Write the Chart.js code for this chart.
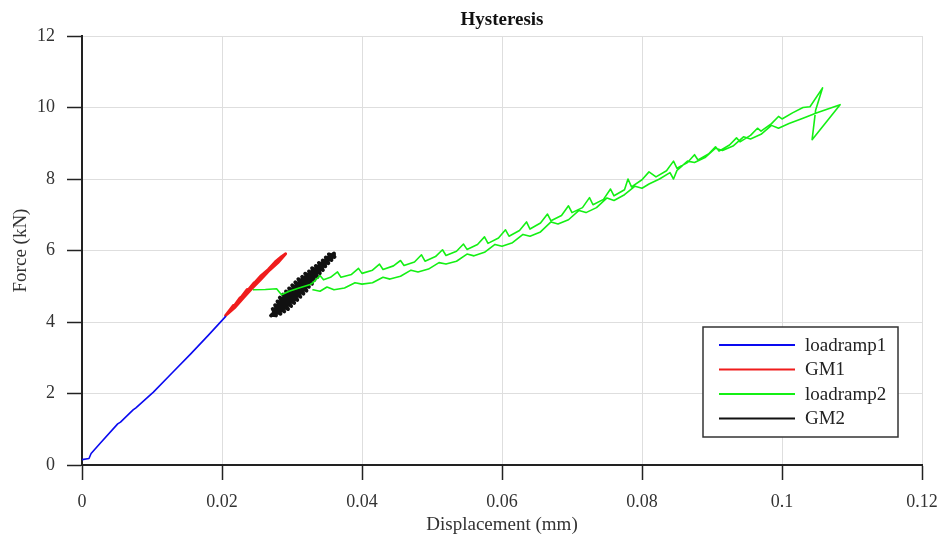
<!DOCTYPE html>
<html>
<head>
<meta charset="utf-8">
<script src="https://cdn.jsdelivr.net/npm/chart.js@4/dist/chart.umd.min.js"></script>
<style>
  html, body { margin: 0; padding: 0; background: #fff; }
  #wrap { width: 942px; height: 539px; }
</style>
</head>
<body>
<div id="wrap"><canvas id="c" width="942" height="539"></canvas></div>
<script>
// data (displacement mm, force kN)
const seriesNames = ['loadramp1', 'GM1', 'loadramp2', 'GM2'];
const seriesColors = ['#0a0af0', '#f01c1c', '#14f014', '#111111'];

const loadramp1X = [0, 0.001, 0.0013, 0.0026, 0.0051, 0.0055, 0.0073, 0.0077, 0.0102, 0.0130, 0.0155, 0.0180, 0.0205];
const loadramp1Y = [0.15, 0.18, 0.32, 0.61, 1.15, 1.20, 1.54, 1.60, 2.04, 2.60, 3.10, 3.62, 4.15];

const gm1X = [0.0205, 0.0216, 0.0211, 0.0226, 0.0219, 0.0236, 0.0229, 0.0246, 0.0239, 0.0256, 0.0266, 0.0276, 0.0285, 0.0291,
              0.0281, 0.0268, 0.0255, 0.0242, 0.0230, 0.0218, 0.0207];
const gm1Y = [4.18, 4.46, 4.28, 4.68, 4.48, 4.91, 4.70, 5.10, 4.93, 5.30, 5.47, 5.68, 5.83, 5.91,
              5.68, 5.45, 5.18, 4.92, 4.66, 4.40, 4.21];

const loadramp2X = [0.0245, 0.0262, 0.0278, 0.0285, 0.0296, 0.0310, 0.0326,
  0.0330, 0.0340, 0.0345, 0.0355, 0.0365, 0.0370, 0.0385, 0.0395, 0.0400, 0.0415, 0.0425, 0.0430,
  0.0445, 0.0455, 0.0460, 0.0475, 0.0485, 0.0490, 0.0505, 0.0515, 0.0520, 0.0535, 0.0545, 0.0550,
  0.0565, 0.0575, 0.0580, 0.0595, 0.0605, 0.0610, 0.0625, 0.0635, 0.0640, 0.0655, 0.0665, 0.0670,
  0.0685, 0.0695, 0.0700, 0.0715, 0.0725, 0.0730, 0.0745, 0.0755, 0.0760, 0.0775, 0.0780, 0.0785,
  0.0800, 0.0810, 0.0820, 0.0835, 0.0845, 0.0850, 0.0865, 0.0875, 0.0880, 0.0895, 0.0905, 0.0910,
  0.0925, 0.0935, 0.0940, 0.0955, 0.0965, 0.0970, 0.0985, 0.0995, 0.1000, 0.1015, 0.1030, 0.1040,
  0.1058, 0.1048, 0.1043, 0.1083, 0.1050,
  0.1030, 0.1010, 0.0995, 0.0985, 0.0970, 0.0955, 0.0945, 0.0930, 0.0915, 0.0905, 0.0890, 0.0875,
  0.0865, 0.0850, 0.0845, 0.0840, 0.0825, 0.0810, 0.0800, 0.0790, 0.0775, 0.0760, 0.0750, 0.0735,
  0.0720, 0.0710, 0.0695, 0.0680, 0.0670, 0.0655, 0.0640, 0.0630, 0.0615, 0.0600, 0.0590, 0.0575,
  0.0560, 0.0550, 0.0535, 0.0520, 0.0510, 0.0495, 0.0480, 0.0470, 0.0455, 0.0440, 0.0430, 0.0415,
  0.0400, 0.0390, 0.0375, 0.0360, 0.0350, 0.0340, 0.0330];
const loadramp2Y = [4.90, 4.91, 4.93, 4.76, 4.86, 4.95, 5.05,
  5.10, 5.30, 5.18, 5.25, 5.40, 5.25, 5.33, 5.50, 5.36, 5.45, 5.62, 5.47,
  5.57, 5.72, 5.58, 5.68, 5.88, 5.70, 5.83, 6.02, 5.86, 5.98, 6.18, 6.03,
  6.17, 6.38, 6.20, 6.35, 6.58, 6.40, 6.56, 6.80, 6.60, 6.77, 7.02, 6.83,
  6.98, 7.25, 7.06, 7.20, 7.48, 7.28, 7.43, 7.72, 7.53, 7.70, 8.00, 7.78,
  7.98, 8.20, 8.06, 8.23, 8.50, 8.30, 8.46, 8.68, 8.53, 8.70, 8.90, 8.78,
  8.95, 9.15, 9.04, 9.22, 9.42, 9.34, 9.55, 9.75, 9.68, 9.85, 10.00, 10.02,
  10.55, 9.92, 9.10, 10.08, 9.85,
  9.70, 9.55, 9.42, 9.50, 9.25, 9.12, 9.18, 8.92, 8.80, 8.86, 8.60, 8.46,
  8.50, 8.24, 8.00, 8.18, 8.00, 7.86, 7.74, 7.80, 7.56, 7.40, 7.47, 7.20,
  7.06, 7.12, 6.86, 6.74, 6.80, 6.52, 6.40, 6.45, 6.22, 6.12, 6.17, 5.95,
  5.85, 5.90, 5.70, 5.62, 5.66, 5.48, 5.40, 5.45, 5.28, 5.20, 5.25, 5.10,
  5.06, 5.10, 4.95, 4.90, 4.98, 4.86, 4.90];

const gm2X = [0.02720, 0.02772, 0.02724, 0.02836, 0.02758, 0.02890, 0.02792, 0.02944, 0.02826, 0.02988,
              0.02870, 0.03032, 0.02914, 0.03076, 0.02958, 0.03120, 0.03002, 0.03164, 0.03046, 0.03208,
              0.03090, 0.03242, 0.03144, 0.03286, 0.03188, 0.03320, 0.03242, 0.03364, 0.03286, 0.03398,
              0.03340, 0.03442, 0.03384, 0.03476, 0.03438, 0.03520, 0.03482, 0.03564, 0.03526, 0.03608,
              0.03600, 0.03500, 0.03380, 0.03260, 0.03140, 0.03020, 0.02900, 0.02800, 0.02700];
const gm2Y = [4.200, 4.183, 4.366, 4.229, 4.472, 4.295, 4.578, 4.361, 4.684, 4.447,
              4.770, 4.533, 4.856, 4.619, 4.942, 4.705, 5.028, 4.791, 5.114, 4.877,
              5.200, 4.983, 5.266, 5.069, 5.352, 5.175, 5.418, 5.261, 5.504, 5.367,
              5.570, 5.453, 5.656, 5.559, 5.722, 5.645, 5.808, 5.731, 5.894, 5.817,
              5.920, 5.740, 5.500, 5.260, 5.020, 4.780, 4.550, 4.360, 4.180];

const xTicks = [0, 0.02, 0.04, 0.06, 0.08, 0.1, 0.12];
const yTicks = [0, 2, 4, 6, 8, 10, 12];

const serif = "'Liberation Serif', 'DejaVu Serif', serif";
const pts = (xs, ys) => xs.map((x, i) => ({ x, y: ys[i] }));

const allSeries = [
  [loadramp1X, loadramp1Y, 1.6],
  [gm1X, gm1Y, 2.8],
  [loadramp2X, loadramp2Y, 1.6],
  [gm2X, gm2Y, 3.8]
];

// legend box drawn inside the plot (bottom right) + title centred on the plot
const extras = {
  id: 'extras',
  afterDraw(chart) {
    const ctx = chart.ctx, a = chart.chartArea;
    ctx.save();
    ctx.fillStyle = '#111';
    ctx.font = "bold 19px " + serif;
    ctx.textAlign = 'center';
    ctx.textBaseline = 'middle';
    ctx.fillText('Hysteresis', (a.left + a.right) / 2, 20);

    const bx = 703, by = 327, bw = 195, bh = 110;
    ctx.fillStyle = '#fff';
    ctx.fillRect(bx, by, bw, bh);
    ctx.strokeStyle = '#333';
    ctx.lineWidth = 1.5;
    ctx.strokeRect(bx, by, bw, bh);
    ctx.font = "19px " + serif;
    ctx.textAlign = 'left';
    seriesNames.forEach((n, i) => {
      const yy = by + 18 + i * 24.5;
      ctx.strokeStyle = seriesColors[i];
      ctx.lineWidth = 2.2;
      ctx.beginPath();
      ctx.moveTo(719, yy);
      ctx.lineTo(795, yy);
      ctx.stroke();
      ctx.fillStyle = '#222';
      ctx.fillText(n, 805, yy + 1);
    });
    ctx.restore();
  }
};

new Chart(document.getElementById('c'), {
  type: 'scatter',
  data: {
    datasets: allSeries.map((s, i) => ({
      label: seriesNames[i],
      data: pts(s[0], s[1]),
      showLine: true,
      borderColor: seriesColors[i],
      backgroundColor: seriesColors[i],
      borderWidth: s[2],
      borderJoinStyle: 'round',
      borderCapStyle: 'round',
      pointRadius: 0,
      tension: 0
    }))
  },
  options: {
    responsive: false,
    animation: false,
    layout: { padding: { top: 36, right: 20, left: 0, bottom: 0 } },
    plugins: { legend: { display: false }, title: { display: false }, tooltip: { enabled: false } },
    scales: {
      x: {
        type: 'linear', min: 0, max: 0.12,
        afterBuildTicks: s => { s.ticks = xTicks.map(v => ({ value: v })); },
        afterFit: s => { s.height = 74; s.paddingLeft = 0; s.paddingRight = 0; },
        grid: { color: '#dedede', lineWidth: 1, tickColor: '#222', tickLength: 15, tickWidth: 1.5 },
        border: { color: '#222', width: 2 },
        ticks: { color: '#333', font: { family: serif, size: 18 }, padding: 11, maxRotation: 0,
                 callback: v => String(Math.round(v * 100) / 100) },
        title: { display: true, text: 'Displacement (mm)', color: '#333', font: { family: serif, size: 19 },
                 padding: { top: 0, bottom: 3 } }
      },
      y: {
        type: 'linear', min: 0, max: 12,
        afterBuildTicks: s => { s.ticks = yTicks.map(v => ({ value: v })); },
        afterFit: s => { s.width = 82; s.paddingTop = 0; s.paddingBottom = 0; },
        grid: { color: '#dedede', lineWidth: 1, tickColor: '#222', tickLength: 15, tickWidth: 1.5 },
        border: { color: '#222', width: 2 },
        ticks: { color: '#333', font: { family: serif, size: 18 }, padding: 12 },
        title: { display: true, text: 'Force (kN)', color: '#333', font: { family: serif, size: 19 },
                 padding: { top: 10, bottom: 0 } }
      }
    }
  },
  plugins: [extras]
});
</script>
</body>
</html>
